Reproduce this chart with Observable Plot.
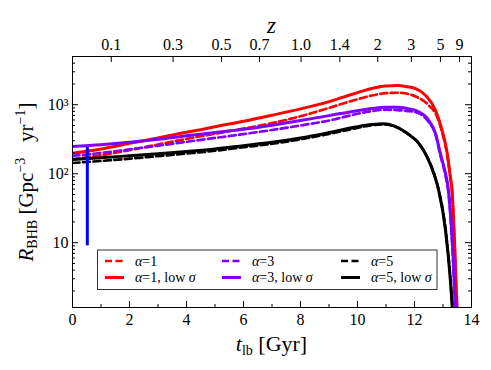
<!DOCTYPE html>
<html><head><meta charset="utf-8">
<script src="https://cdn.jsdelivr.net/npm/d3@7"></script>
<script src="https://cdn.jsdelivr.net/npm/@observablehq/plot@0.6"></script>
<style>
body{margin:0;background:#fff;}
#chart{width:491px;height:370px;}
</style></head><body><div id="chart"></div>
<script>
// ---- data (lookback time t in Gyr, rate in Gpc^-3 yr^-1) ----
const t_a1_dash = [0,1,2,3,4,5,6,7,8,9,10,10.5,11,11.4,11.75,12.04,12.5,12.8,12.97,13.15,13.26,13.32,13.41,13.49,13.53];
const r_a1_dash = [163,185,220,265,320,380,450,540,680,900,1200,1360,1470,1490,1440,1318,977,661,400,185,85,54,8.5,1.1,0.7];
const t_a1_low  = [0,1,2,3,4,4.5,5,6,7,8,9,9.5,10,10.5,11,11.4,11.75,12.04,12.39,12.74,12.97,13.15,13.26,13.32,13.41,13.5,13.54];
const r_a1_low  = [198,228,275,330,400,435,480,575,705,870,1110,1290,1500,1720,1870,1900,1820,1706,1364,826,425,195,89,57,9,1.1,0.7];
const t_a3_dash = [0,1,2,3,4,5,6,7,8,9,10,10.5,11,11.4,11.75,12.04,12.5,12.74,12.9,13.08,13.19,13.33,13.44,13.47];
const r_a3_dash = [182,200,225,255,290,330,375,430,500,590,740,810,845,835,810,781,560,370,190,97,53,8.3,1.0,0.7];
const t_a3_low  = [0,1,2,3,4,5,6,7,8,9,10,10.5,11,11.4,11.75,12.04,12.5,12.74,12.91,13.09,13.2,13.34,13.45,13.48];
const r_a3_low  = [248,262,285,315,355,395,440,505,590,695,820,880,920,920,880,826,592,380,195,100,55,8.6,1.0,0.7];
const t_a5_dash = [0,1,2,3,4,5,6,7,8,9,10,10.5,10.9,11.3,11.8,12.15,12.44,12.68,12.85,13.09,13.26,13.37];
const r_a5_dash = [143,153,165,180,196,215,242,272,315,378,462,505,520,485,370,277,177,102,58,15.5,2.9,0.7];
const t_a5_low  = [0,1,2,3,4,5,6,7,8,9,10,10.5,10.9,11.3,11.8,12.15,12.44,12.68,12.85,13.09,13.26,13.36];
const r_a5_low  = [160,170,182,195,210,228,255,285,330,395,480,515,530,490,370,275,175,100,57,15,2.85,0.7];

// observational range (vertical bar)
const obs_t = 0.52;
const obs_range = [9, 240];

// axis ticks
const xTicks = [0,2,4,6,8,10,12,14];
const xMinor = [1,3,5,7,9,11,13];
const yTicks = [10,100,1000];
const yTickLabels = ["10","10²","10³"];
const yMinor = [2,3,4,5,6,7,8,9,20,30,40,50,60,70,80,90,200,300,400,500,600,700,800,900,2000,3000,4000,5000];
const zTicks = [1.36,3.53,5.23,6.56,8.02,9.38,10.71,11.89,12.91,13.58];
const zLabels = ["0.1","0.3","0.5","0.7","1.0","1.4","2","3","5","9"];

const seriesNames = ["α=1","α=1, low σ","α=3","α=3, low σ","α=5","α=5, low σ"];
const seriesColors = ["#ff0000","#ff0000","#8000ff","#8000ff","#000000","#000000"];
const seriesDashed = [true,false,true,false,true,false];
const seriesT = [t_a1_dash,t_a1_low,t_a3_dash,t_a3_low,t_a5_dash,t_a5_low];
const seriesR = [r_a1_dash,r_a1_low,r_a3_dash,r_a3_low,r_a5_dash,r_a5_low];

const W = 491, H = 370, mL = 72, mR = 20, mT = 56, mB = 63;
const PH = H - mT - mB, PW = W - mL - mR;
const FONT = "'Liberation Serif', 'DejaVu Serif', serif";

const lineMarks = seriesNames.map((name, k) =>
  Plot.line(seriesT[k].map((t, i) => ({t, r: seriesR[k][i]})), {
    x: "t", y: "r", stroke: seriesColors[k], strokeWidth: seriesDashed[k] ? 2.7 : 3,
    strokeDasharray: seriesDashed[k] ? "7,3.5" : null, curve: "monotone-x", clip: true
  })
);

const svg = Plot.plot({
  width: W, height: H,
  marginLeft: mL, marginRight: mR, marginTop: mT, marginBottom: mB,
  style: {fontFamily: FONT, fontSize: "16px", background: "white", color: "black"},
  x: {domain: [0, 14], label: null},
  y: {type: "log", domain: [1.15, 5000], label: null},
  marks: [
    ...lineMarks,
    Plot.ruleX([obs_t], {y1: obs_range[0], y2: obs_range[1], stroke: "#0000ff", strokeWidth: 3}),
    // inward ticks
    Plot.tickX(xTicks, {x: d => d, insetTop: PH - 6, stroke: "black"}),
    Plot.tickX(xMinor, {x: d => d, insetTop: PH - 3, stroke: "black"}),
    Plot.tickX(zTicks, {x: d => d, insetBottom: PH - 6, stroke: "black"}),
    Plot.tickY(yTicks, {y: d => d, insetRight: PW - 6, stroke: "black"}),
    Plot.tickY(yTicks, {y: d => d, insetLeft: PW - 6, stroke: "black"}),
    Plot.tickY(yMinor, {y: d => d, insetRight: PW - 3, stroke: "black"}),
    Plot.tickY(yMinor, {y: d => d, insetLeft: PW - 3, stroke: "black"}),
    Plot.frame({stroke: "black", strokeWidth: 1}),
    Plot.axisX(xTicks, {anchor: "bottom", tickSize: 0, tickPadding: 6, fontSize: 16, label: null}),
    Plot.axisX(zTicks, {anchor: "top", tickSize: 0, tickPadding: 7, fontSize: 16, label: null,
      tickFormat: d => zLabels[zTicks.indexOf(d)]}),
    Plot.axisY(yTicks, {anchor: "left", tickSize: 0, tickPadding: 4, fontSize: 16, label: null,
      tickFormat: d => yTickLabels[yTicks.indexOf(d)]})
  ]
});
document.getElementById("chart").appendChild(svg);

const s = d3.select(svg);
// y title
const yt = s.append("text").attr("transform", "translate(33,182) rotate(-90)")
  .attr("text-anchor", "middle").attr("font-size", 21).attr("fill", "black");
yt.append("tspan").attr("font-style", "italic").text("R");
yt.append("tspan").attr("font-size", 14).attr("dy", 4).text("BHB");
yt.append("tspan").attr("dy", -4).text("\u00a0[Gpc");
yt.append("tspan").attr("font-size", 14).attr("dy", -8).text("−3");
yt.append("tspan").attr("dy", 8).text("\u00a0\u00a0\u00a0yr");
yt.append("tspan").attr("font-size", 14).attr("dy", -8).text("−1");
yt.append("tspan").attr("dy", 8).text("]");
// x title
const xt = s.append("text").attr("x", mL + PW / 2).attr("y", 351)
  .attr("text-anchor", "middle").attr("font-size", 22).attr("fill", "black");
xt.append("tspan").attr("font-style", "italic").text("t");
xt.append("tspan").attr("font-size", 14).attr("dy", 4).text("lb");
xt.append("tspan").attr("dy", -4).text("\u00a0[Gyr]");
// z title
s.append("text").attr("x", mL + PW / 2).attr("y", 33).attr("text-anchor", "middle")
  .attr("font-size", 23).attr("font-style", "italic").attr("fill", "black").text("z");

// legend
const lg = s.append("g").attr("text-anchor", "start");
lg.append("rect").attr("x", 97.5).attr("y", 250).attr("width", 339.5).attr("height", 39.5)
  .attr("fill", "white").attr("stroke", "#333").attr("stroke-width", 1);
const colX = [105, 222, 341];
const rowY = [261, 277.5];
seriesNames.forEach((name, k) => {
  const c = Math.floor(k / 2), r = k % 2;
  lg.append("line").attr("x1", colX[c]).attr("x2", colX[c] + 19)
    .attr("y1", rowY[r]).attr("y2", rowY[r])
    .attr("stroke", seriesColors[k]).attr("stroke-width", seriesDashed[k] ? 2.7 : 3)
    .attr("stroke-dasharray", seriesDashed[k] ? "7,3.5" : null);
  const tx = lg.append("text").attr("x", colX[c] + 30).attr("y", rowY[r] + 4.5)
    .attr("text-anchor", "start").attr("font-size", 14).attr("fill", "black");
  const parts = name.split(/([ασ])/);
  parts.forEach(p => {
    if (!p) return;
    const ts = tx.append("tspan").text(p);
    if (p === "α" || p === "σ") ts.attr("font-style", "italic");
  });
});
</script>
</body></html>
